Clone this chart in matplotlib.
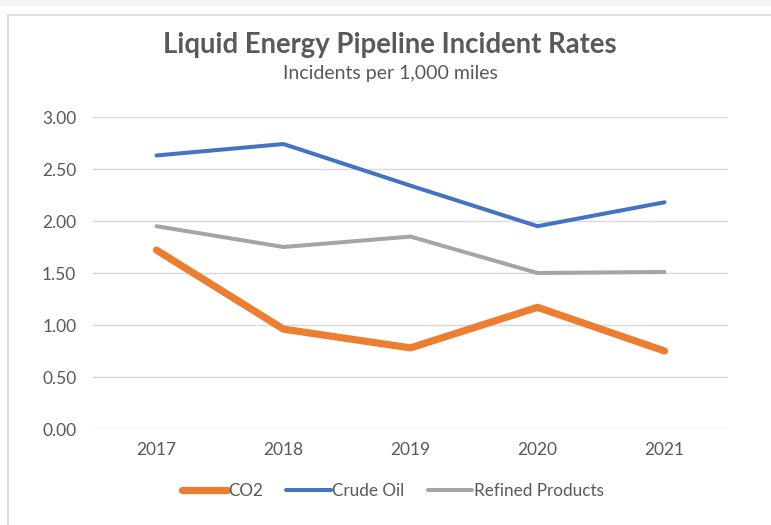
import matplotlib
matplotlib.use("Agg")
import matplotlib.pyplot as plt
from matplotlib.lines import Line2D
from matplotlib.patches import Rectangle

years = ["2017", "2018", "2019", "2020", "2021"]
co2 = [1.72, 0.96, 0.78, 1.17, 0.75]
crude_oil = [2.63, 2.74, 2.34, 1.95, 2.18]
refined_products = [1.95, 1.75, 1.85, 1.50, 1.51]
yticks = [0.0, 0.5, 1.0, 1.5, 2.0, 2.5, 3.0]

title = "Liquid Energy Pipeline Incident Rates"
subtitle = "Incidents per 1,000 miles"

TXT = "#595959"
plt.rcParams['font.family'] = ['Lato', 'DejaVu Sans']

fig = plt.figure(figsize=(7.71, 5.25), dpi=100)
fig.patch.set_facecolor("white")

# top gray strip and frame
fig.add_artist(Rectangle((0, 1 - 6/525), 1, 6/525, transform=fig.transFigure,
                         facecolor="#f2f3f3", edgecolor="none"))
fig.add_artist(Line2D([8/771, 8/771], [0, 1 - 15/525], transform=fig.transFigure,
                      color="#d9d9d9", lw=1.2))
fig.add_artist(Line2D([8/771, 1], [1 - 15/525, 1 - 15/525], transform=fig.transFigure,
                      color="#d9d9d9", lw=1.2))

ax = fig.add_axes([93/771, 1 - 429/525, (728 - 93)/771, (429 - 117)/525])
x = list(range(len(years)))
ax.plot(x, co2, color="#ED7D31", lw=5.2, solid_capstyle="round", solid_joinstyle="round", label="CO2", zorder=3)
ax.plot(x, crude_oil, color="#4472C4", lw=2.9, solid_capstyle="round", solid_joinstyle="round", label="Crude Oil", zorder=3)
ax.plot(x, refined_products, color="#A5A5A5", lw=2.9, solid_capstyle="round", solid_joinstyle="round", label="Refined Products", zorder=3)

ax.set_xlim(-0.5, len(years) - 0.5)
ax.set_ylim(0, 3)
ax.set_yticks(yticks)
ax.set_yticklabels([f"{v:.2f}" for v in yticks])
ax.set_xticks(x)
ax.set_xticklabels(years)
ax.tick_params(axis="both", length=0, labelsize=12.5, labelcolor=TXT)
ax.tick_params(axis="y", pad=12)
ax.tick_params(axis="x", pad=9.5)
for s in ax.spines.values():
    s.set_visible(False)
ax.grid(axis="y", color="#d9d9d9", lw=1)
ax.set_axisbelow(True)

fig.text(390/771, 1 - 45/525, title, ha="center", va="center", fontsize=19.8,
         fontweight="bold", color=TXT)
fig.text(390/771, 1 - 73/525, subtitle, ha="center", va="center", fontsize=14, color=TXT)

leg = fig.legend(loc="center", bbox_to_anchor=(393/771, 1 - 491/525), ncol=3, frameon=False,
                 fontsize=12.3, handlelength=2.6, handletextpad=0.1, columnspacing=1.35)
for t in leg.get_texts():
    t.set_color(TXT)

fig.savefig("out.png", dpi=100)
